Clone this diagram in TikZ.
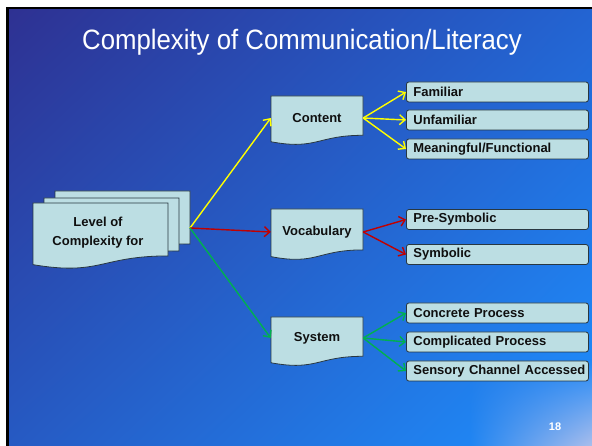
\documentclass[tikz,border=0pt]{standalone}
\usepackage{fontspec}
\setmainfont{Liberation Sans}
\usepackage{xcolor}
\usepackage{tikz}
\usetikzlibrary{calc, arrows.meta, positioning, shapes, shadings}
\definecolor{bgtopleft}{RGB}{46,49,146}
\definecolor{bgtopright}{RGB}{35,100,210}
\definecolor{bglowleft}{RGB}{38,90,195}
\definecolor{bglowright}{RGB}{30,144,255}
\definecolor{glowa}{RGB}{33,124,233}
\definecolor{glowb}{RGB}{31,135,246}
\definecolor{glowc}{RGB}{32,133,242}
\definecolor{glowcorner}{RGB}{170,190,236}
\definecolor{boxcyan}{RGB}{188,222,227}
\definecolor{boxline}{RGB}{40,55,65}
\definecolor{textdark}{RGB}{15,15,15}
\definecolor{arrowyellow}{RGB}{255,255,0}
\definecolor{arrowred}{RGB}{192,0,0}
\definecolor{arrowgreen}{RGB}{0,176,80}

\tikzset{
  docline/.style={draw=boxline, line width=0.8pt, fill=boxcyan},
  itembox/.style={draw=boxline, fill=boxcyan, rounded corners=2.5pt, line width=0.8pt,
    anchor=west, minimum height=20pt, text width=178pt, align=left, inner xsep=2pt, inner ysep=0pt,
    execute at begin node={\hskip 5pt}},
  link/.style={line width=1.4pt, -{Straight Barb[length=5.5pt,width=10pt]}},
}

% document shape: x, y (top left), width, height
\newcommand{\docpath}[4]{%
  \draw[docline] (#1,#2) -- ++(#3,0) -- ++(0,{0.802*#4})
    .. controls ({#1+0.5*#3},{#2+0.802*#4}) and ({#1+0.5*#3},{#2+1.107*#4}) .. (#1,{#2+0.934*#4}) -- cycle;}

\begin{document}
\begin{tikzpicture}[x=1pt, y=-1pt, every node/.style={font=\fontsize{13}{15}\selectfont\bfseries, text=textdark}]
\useasboundingbox (0,0) rectangle (592,446);
\fill[white] (0,0) rectangle (592,446);
\fill[black] (6,7) rectangle (592,446);
\shade[upper left=bgtopleft, upper right=bgtopright, lower left=bglowleft, lower right=bglowright] (9,10) rectangle (592,446);
\shade[upper left=glowa, upper right=glowb, lower left=glowc, lower right=glowcorner] (470,360) rectangle (592,446);

\node[font=\fontsize{28}{32}\selectfont, text=white, anchor=base] (title) at (302,50) {\scalebox{0.92}[1]{Complexity of Communication/Literacy}};

% stacked documents
\docpath{55}{191}{135}{66}
\docpath{44}{198}{135}{66}
\docpath{33}{203}{135}{66}
\node[align=center, font=\fontsize{13}{19}\selectfont\bfseries] (level) at (98,233) {Level of\\Complexity for};
\coordinate (stack) at (190,228);

\pgfmathsetmacro{\docw}{92}
\docpath{271}{96}{\docw}{49}
\node[minimum width=\docw pt, inner sep=0pt] (content) at (317,118) {Content};
\docpath{271}{209}{\docw}{51}
\node[minimum width=\docw pt, inner sep=0pt] (vocab) at (317,232) {Vocabulary};
\docpath{271}{317}{\docw}{49}
\node[minimum width=\docw pt, inner sep=0pt] (system) at (317,338) {System};

\node[itembox] (familiar) at (406,92) {Familiar};
\node[itembox] (unfamiliar) at (406,120) {Unfamiliar};
\node[itembox] (meaningful) at (406,149) {Meaningful/Functional};
\node[itembox] (presymbolic) at (406,219.5) {Pre-Symbolic};
\node[itembox] (symbolic) at (406,254.5) {Symbolic};
\node[itembox] (concrete) at (406,313) {Concrete Process};
\node[itembox] (complicated) at (406,342) {Complicated Process};
\node[itembox] (sensory) at (406,371) {Sensory Channel Accessed};

\draw[link, arrowyellow] (stack) -- (content.west);
\draw[link, arrowred] (stack) -- (vocab.west);
\draw[link, arrowgreen] (stack) -- (system.west);

\draw[link, arrowyellow] (content.east) -- (familiar.west);
\draw[link, arrowyellow] (content.east) -- (unfamiliar.west);
\draw[link, arrowyellow] (content.east) -- (meaningful.west);
\draw[link, arrowred] (vocab.east) -- (presymbolic.west);
\draw[link, arrowred] (vocab.east) -- (symbolic.west);
\draw[link, arrowgreen] (system.east) -- (concrete.west);
\draw[link, arrowgreen] (system.east) -- (complicated.west);
\draw[link, arrowgreen] (system.east) -- (sensory.west);

\node[text=white, font=\fontsize{11}{13}\selectfont\bfseries] (pagenum) at (555,427) {18};
\end{tikzpicture}
\end{document}
